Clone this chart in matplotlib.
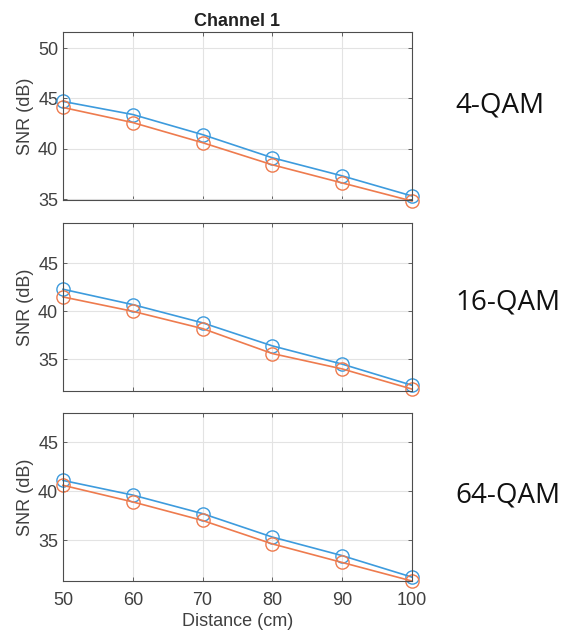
import matplotlib.pyplot as plt

# Distances (cm) and SNR readings (dB) for each modulation, two traces each.
distance = [50, 60, 70, 80, 90, 100]

snr_4qam_a = [44.7, 43.4, 41.4, 39.1, 37.3, 35.3]
snr_4qam_b = [44.1, 42.6, 40.6, 38.4, 36.6, 34.8]

snr_16qam_a = [42.3, 40.7, 38.8, 36.4, 34.5, 32.3]
snr_16qam_b = [41.5, 40.0, 38.2, 35.6, 34.0, 31.9]

snr_64qam_a = [41.1, 39.6, 37.7, 35.3, 33.4, 31.2]
snr_64qam_b = [40.6, 38.9, 37.0, 34.6, 32.7, 30.8]

panel_labels = ['4-QAM', '16-QAM', '64-QAM']
panel_ylims = [(34.9, 51.6), (31.7, 49.2), (30.8, 48.0)]
panel_yticks = [[35, 40, 45, 50], [35, 40, 45], [35, 40, 45]]
xticks = [50, 60, 70, 80, 90, 100]

blue = '#3D9BDD'
orange = '#EE7B4E'

fig = plt.figure(figsize=(5.65, 6.33), dpi=100)
plt.rcParams['font.family'] = ['Liberation Sans', 'DejaVu Sans']

# axes rectangles in figure fractions
left, width = 0.1115, 0.6177
bottoms = [0.684, 0.3823, 0.0821]
height = 0.2654
label_baselines = [0.8215, 0.5103, 0.2054]

series = [(snr_4qam_a, snr_4qam_b), (snr_16qam_a, snr_16qam_b), (snr_64qam_a, snr_64qam_b)]

for i, (a, b) in enumerate(series):
    ax = fig.add_axes([left, bottoms[i], width, height])
    ax.plot(distance, a, color=blue, lw=1.2, marker='o', ms=9.5, mfc='none', mew=1.0, clip_on=False)
    ax.plot(distance, b, color=orange, lw=1.2, marker='o', ms=9.5, mfc='none', mew=1.0, clip_on=False)
    ax.set_xlim(50, 100)
    ax.set_ylim(*panel_ylims[i])
    ax.set_xticks(xticks)
    ax.set_yticks(panel_yticks[i])
    ax.grid(True, color='#E3E3E3', lw=0.8)
    ax.set_axisbelow(True)
    ax.tick_params(direction='in', top=True, right=True, length=3, width=0.6,
                   colors='#4D4D4D', labelsize=13, labelcolor='#404040')
    ax.tick_params(axis='x', pad=8)
    for s in ax.spines.values():
        s.set_color('#4D4D4D')
        s.set_linewidth(0.8)
    ax.set_ylabel('SNR (dB)', fontsize=13, color='#404040', labelpad=3)
    if i < 2:
        ax.set_xticklabels([])
    else:
        ax.set_xlabel('Distance (cm)', fontsize=13, color='#404040', labelpad=3)
    if i == 0:
        ax.set_title('Channel 1', fontsize=13, fontweight='bold', color='#222222', pad=4)
    fig.text(0.806, label_baselines[i], panel_labels[i],
             fontsize=20, family='Open Sans', color='#111111', ha='left', va='baseline')

fig.savefig('out.png', dpi=100)
